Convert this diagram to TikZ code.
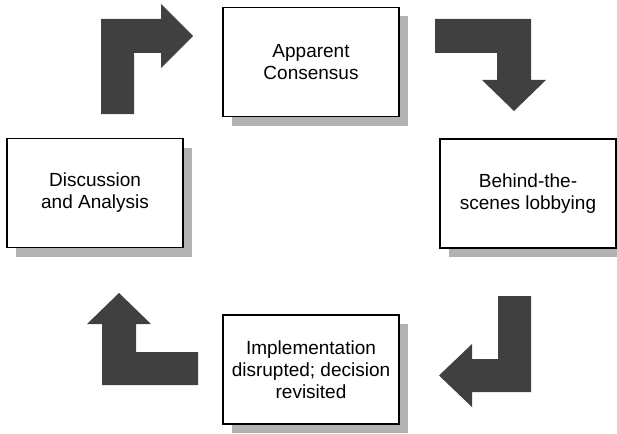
\documentclass[tikz,border=0pt]{standalone}
\usepackage{fontspec}
\setmainfont{Liberation Sans}
\usetikzlibrary{shadows}

\tikzset{
  stagebox/.style={draw=black, line width=1.6pt, fill=white, align=center,
    minimum width=176pt, minimum height=109pt, inner sep=2pt,
    font=\fontsize{19}{22}\selectfont,
    general shadow={fill=black!30, shadow xshift=9pt, shadow yshift=-9pt}},
  bentarrow/.style={fill=black!75, draw=none}
}

\begin{document}
\begin{tikzpicture}[x=1pt, y=-1pt]
    \useasboundingbox (0, 0) rectangle (617, 433);

    % Stages
    \node[stagebox] (consensus) at (311, 62) {Apparent\\Consensus};
    \node[stagebox] (lobbying) at (528, 193.5) {Behind-the-\\scenes lobbying};
    \node[stagebox] (revisited) at (311, 369.5) {Implementation\\disrupted; decision\\revisited};
    \node[stagebox] (analysis) at (95, 193) {Discussion\\and Analysis};

    % Bent arrows
    \fill [bentarrow] (101, 114) -- (101, 19) -- (161, 19) -- (161, 4) -- (193, 36)
      -- (161, 68) -- (161, 53) -- (134, 53) -- (134, 114) -- cycle;
    \fill [bentarrow] (435, 19) -- (531, 19) -- (531, 80) -- (546, 80) -- (514, 111)
      -- (482, 80) -- (497, 80) -- (497, 53) -- (435, 53) -- cycle;
    \fill [bentarrow] (498, 296) -- (531, 296) -- (531, 392) -- (472, 392) -- (472, 407)
      -- (439, 375.5) -- (472, 344) -- (472, 359) -- (498, 359) -- cycle;
    \fill [bentarrow] (102, 385) -- (102, 324) -- (87, 324) -- (119, 293) -- (151, 324)
      -- (136, 324) -- (136, 352) -- (198, 352) -- (198, 385) -- cycle;
  \end{tikzpicture}
\end{document}
